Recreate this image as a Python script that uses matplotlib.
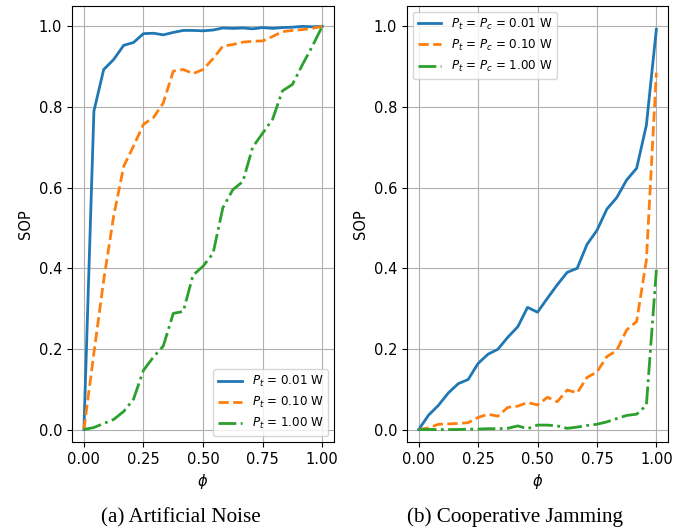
import matplotlib
matplotlib.use("Agg")
import matplotlib.pyplot as plt

# 横轴 phi：0 到 1 共 25 个点
phi = [0.0, 0.042, 0.083, 0.125, 0.167, 0.208, 0.25, 0.292, 0.333, 0.375,
       0.417, 0.458, 0.5, 0.542, 0.583, 0.625, 0.667, 0.708, 0.75, 0.792,
       0.833, 0.875, 0.917, 0.958, 1.0]

# (a) Artificial Noise
an_labels = ["$P_t$ = 0.01 W", "$P_t$ = 0.10 W", "$P_t$ = 1.00 W"]
an_001 = [0.0, 0.79, 0.893, 0.918, 0.953, 0.96, 0.982, 0.983, 0.979, 0.985,
          0.99, 0.99, 0.989, 0.991, 0.996, 0.995, 0.996, 0.994, 0.997, 0.995,
          0.997, 0.998, 1.0, 0.999, 1.0]
an_010 = [0.0, 0.19, 0.37, 0.53, 0.653, 0.703, 0.757, 0.774, 0.81, 0.889,
          0.893, 0.883, 0.893, 0.92, 0.951, 0.955, 0.961, 0.963, 0.964, 0.975,
          0.987, 0.99, 0.992, 0.995, 1.0]
an_100 = [0.0, 0.005, 0.015, 0.025, 0.045, 0.075, 0.147, 0.18, 0.207, 0.288,
          0.293, 0.383, 0.405, 0.437, 0.55, 0.595, 0.615, 0.70, 0.735, 0.77,
          0.84, 0.856, 0.905, 0.95, 1.0]

# (b) Cooperative Jamming
cj_labels = ["$P_t$ = $P_c$ = 0.01 W", "$P_t$ = $P_c$ = 0.10 W",
             "$P_t$ = $P_c$ = 1.00 W"]
cj_001 = [0.0, 0.036, 0.06, 0.091, 0.114, 0.124, 0.164, 0.187, 0.199, 0.229,
          0.255, 0.303, 0.291, 0.326, 0.359, 0.39, 0.4, 0.459, 0.494, 0.547,
          0.575, 0.619, 0.648, 0.755, 0.993]
cj_010 = [0.0, 0.004, 0.013, 0.014, 0.015, 0.017, 0.03, 0.038, 0.033, 0.055,
          0.058, 0.067, 0.061, 0.08, 0.069, 0.098, 0.091, 0.129, 0.143, 0.181,
          0.196, 0.247, 0.268, 0.42, 0.885]
cj_100 = [0.0, 0.0, 0.0, 0.0, 0.0, 0.001, 0.001, 0.002, 0.002, 0.003,
          0.009, 0.002, 0.011, 0.011, 0.009, 0.003, 0.006, 0.01, 0.013, 0.019,
          0.027, 0.035, 0.038, 0.06, 0.396]

captions = ["(a) Artificial Noise", "(b) Cooperative Jamming"]

plt.rcParams["font.size"] = 10.5

fig = plt.figure(figsize=(6.99, 5.30), dpi=100)
ax_an = fig.add_axes([0.103, 0.166, 0.375, 0.823])
ax_cj = fig.add_axes([0.582, 0.166, 0.374, 0.823])

styles = ["-", "--", "-."]
colors = ["tab:blue", "tab:orange", "tab:green"]

for ax, series, labels in [
    (ax_an, [an_001, an_010, an_100], an_labels),
    (ax_cj, [cj_001, cj_010, cj_100], cj_labels),
]:
    for ys, label, ls, c in zip(series, labels, styles, colors):
        ax.plot(phi, ys, ls, color=c, lw=2, label=label)
    ax.set_xlim(-0.05, 1.05)
    ax.set_ylim(-0.031, 1.051)
    ax.set_xticks([0.0, 0.25, 0.5, 0.75, 1.0])
    ax.set_yticks([0.0, 0.2, 0.4, 0.6, 0.8, 1.0])
    ax.set_xlabel(r"$\phi$")
    ax.set_ylabel("SOP")
    ax.grid(True)

ax_an.legend(loc="lower right", fontsize=8.6)
ax_cj.legend(loc="upper left", fontsize=8.6)

# 子图标题放在下方，模仿论文排版
fig.text(181 / 699, 0.024, captions[0], ha="center", va="center",
         family="Liberation Serif", fontsize=15.2)
fig.text(515 / 699, 0.024, captions[1], ha="center", va="center",
         family="Liberation Serif", fontsize=15.2)

fig.savefig("out.png", dpi=100)
